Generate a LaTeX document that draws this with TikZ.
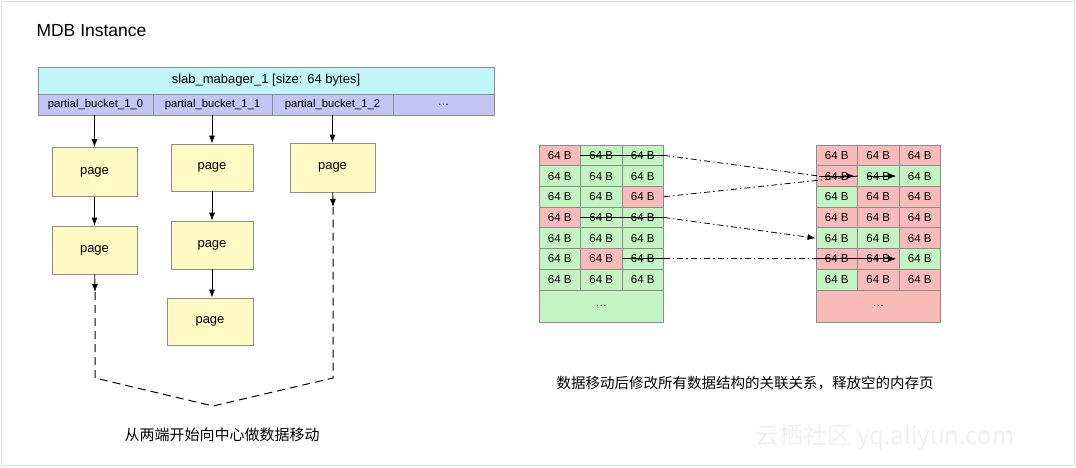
\documentclass[tikz,border=0pt]{standalone}
\usepackage{fontspec}
\setmainfont{Liberation Sans}
\newfontfamily\cjk{Noto Sans CJK SC}
\usetikzlibrary{arrows.meta}
\definecolor{cyanh}{HTML}{C2F7F9}
\definecolor{purp}{HTML}{C4C4F5}
\definecolor{yel}{HTML}{FFFBC2}
\definecolor{rd}{HTML}{F9BABA}
\definecolor{gr}{HTML}{C3F5C3}
\definecolor{bd}{HTML}{8C8C8C}
\begin{document}
\begin{tikzpicture}[x=1pt,y=-1pt,
  box/.style={draw=bd,line width=0.8pt},
  pg/.style={box,fill=yel,minimum width=85pt,minimum height=49pt,font=\fontsize{13}{14}\selectfont,inner sep=0pt},
  bk/.style={box,fill=purp,minimum height=21pt,inner sep=0pt,font=\fontsize{11.3}{12}\selectfont},
  arr/.style={-{Latex[length=8pt,width=6pt]},line width=0.8pt},
  dd/.style={dash pattern=on 6pt off 3pt on 1.5pt off 3pt,line width=0.8pt},
  cell/.style={box,font=\fontsize{11.5}{12}\selectfont,inner sep=0pt,minimum width=41.5pt,minimum height=20.7pt}]
\useasboundingbox (0,0) rectangle (1076,467);
\draw[gray!25] (1.5,1.5) rectangle (1074.5,465.5);
\node[anchor=west,font=\fontsize{17.5}{19}\selectfont] (title) at (33,31) {MDB Instance};
\node[box,fill=cyanh,minimum width=456pt,minimum height=27pt,inner sep=0pt,font=\fontsize{13}{14}\selectfont] (hdr) at (266,80.5) {slab\_mabager\_1 [size: 64 bytes]};
\node[bk,minimum width=115pt] (b0) at (95.5,104.5) {partial\_bucket\_1\_0};
\node[bk,minimum width=119pt] (b1) at (212.5,104.5) {partial\_bucket\_1\_1};
\node[bk,minimum width=121pt] (b2) at (332.5,104.5) {partial\_bucket\_1\_2};
\node[bk,minimum width=101pt] (b3) at (443.5,104.5) {\textellipsis};
\node[pg] (p1) at (94.5,172) {page};
\node[pg,minimum width=82pt,minimum height=47pt] (p2) at (212,167.5) {page};
\node[pg] (p3) at (332.5,167.5) {page};
\node[pg,minimum height=48pt] (p4) at (94.5,250) {page};
\node[pg,minimum width=82pt,minimum height=48pt] (p5) at (212,245) {page};
\node[pg,minimum width=86pt,minimum height=47pt] (p6) at (210,321.5) {page};
\draw[arr] (b0.south -| p1) -- (p1);
\draw[arr] (b1.south -| p2) -- (p2);
\draw[arr] (b2.south -| p3) -- (p3);
\draw[arr] (p1) -- (p4);
\draw[arr] (p2) -- (p5);
\draw[arr] (p5.south) -- (p6.north -| p5.south);
\coordinate (l1) at (95,292); \coordinate (l2) at (95,378);
\coordinate (m) at (213,406);
\coordinate (r1) at (333,207); \coordinate (r2) at (333,378);
\draw[arr] (p4) -- (l1);
\draw[arr] (p3) -- (r1);
\draw[black,dash pattern=on 8pt off 5pt,line width=1pt] (l1) -- (l2) -- (m) -- (r2) -- (r1);
\node[font=\cjk\fontsize{15}{17}\selectfont] (cap1) at (222,435) {从两端开始向中心做数据移动};
\foreach \r/\cs in {0/{rd,gr,gr},1/{gr,gr,gr},2/{gr,gr,rd},3/{rd,gr,gr},4/{gr,gr,gr},5/{gr,rd,gr},6/{gr,gr,gr}}{
  \foreach \c [count=\i from 0] in \cs {
    \node[cell,fill=\c] (L\r\i) at ({559.75+41.5*\i},{155.35+20.7*\r}) {64 B};
  }
}
\node[cell,fill=gr,minimum width=124.5pt,minimum height=32pt] (Ld) at (601.25,305.9) {\textellipsis};
\foreach \r/\cs in {0/{rd,rd,rd},1/{rd,gr,gr},2/{gr,rd,rd},3/{rd,rd,rd},4/{gr,gr,rd},5/{rd,rd,gr},6/{gr,rd,rd}}{
  \foreach \c [count=\i from 0] in \cs {
    \node[cell,fill=\c] (R\r\i) at ({836.75+41.5*\i},{155.35+20.7*\r}) {64 B};
  }
}
\node[cell,fill=rd,minimum width=124.5pt,minimum height=32pt] (Rd) at (878.25,305.9) {\textellipsis};
\draw[line width=0.8pt] (L01.west) -- (L02.east);
\draw[dd] (L02.east) -- ([xshift=-18pt]R10.center);
\draw[arr] ([xshift=-18pt]R10.center) -- ([xshift=18pt]R10.center);
\draw[dd] (L22.east) -- (R10.east);
\draw[arr] ([xshift=-10pt]R11.center) -- ([xshift=18pt]R11.center);
\draw[line width=0.8pt] (L31.west) -- (L32.east);
\draw[dd,-{Latex[length=8pt,width=6pt]}] (L32.east) -- (R40.west);
\draw[line width=0.8pt] (L52.west) -- (L52.east);
\draw[dd] (L52.east) -- (R50.west);
\draw[arr] (R50.west) -- ([xshift=18pt]R51.center);
\node[font=\cjk\fontsize{14.5}{16}\selectfont] (cap2) at (745,383) {数据移动后修改所有数据结构的关联关系，释放空的内存页};
\node[font=\cjk\fontsize{24}{26}\selectfont,text=gray!12] (wm) at (885,437) {云栖社区 yq.aliyun.com};
\end{tikzpicture}
\end{document}
